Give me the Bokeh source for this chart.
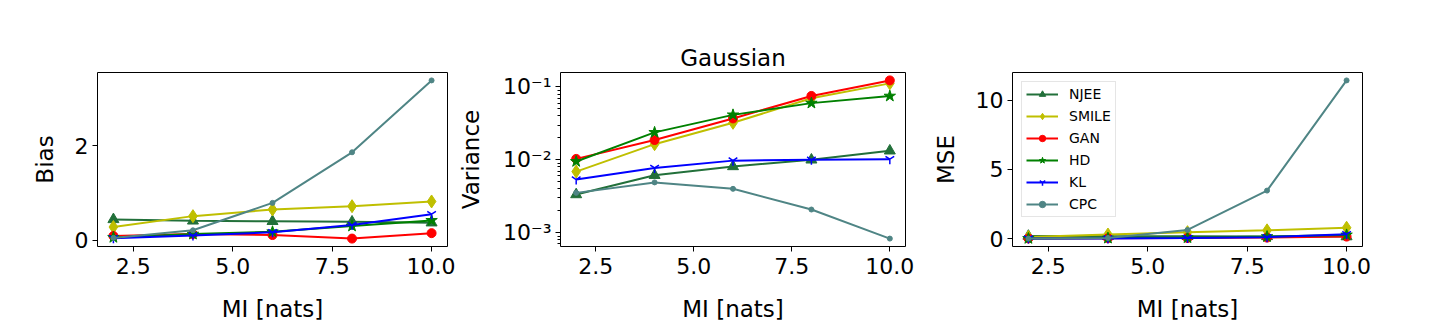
import numpy as np
from bokeh.plotting import figure
from bokeh.layouts import row
from bokeh.models import (FixedTicker, PrintfTickFormatter, CustomJSTickFormatter,
                          Range1d, Legend, LegendItem, LogTicker)
from bokeh.embed import file_html
from bokeh.resources import INLINE

# ---------------- data ----------------
mi = [2, 4, 6, 8, 10]
methods = ["NJEE", "SMILE", "GAN", "HD", "KL", "CPC"]

njee_bias = [0.44, 0.41, 0.40, 0.39, 0.37]
smile_bias = [0.28, 0.51, 0.65, 0.72, 0.82]
gan_bias = [0.09, 0.13, 0.11, 0.035, 0.15]
hd_bias = [0.06, 0.13, 0.18, 0.30, 0.42]
kl_bias = [0.04, 0.10, 0.17, 0.32, 0.55]
cpc_bias = [0.05, 0.21, 0.79, 1.86, 3.38]

njee_var = [0.00334, 0.00614, 0.0081, 0.0100, 0.0133]
smile_var = [0.0069, 0.0164, 0.0322, 0.070, 0.112]
gan_var = [0.0103, 0.0187, 0.037, 0.0753, 0.123]
hd_var = [0.0095, 0.0238, 0.0414, 0.060, 0.075]
kl_var = [0.00536, 0.00773, 0.00975, 0.0100, 0.0102]
cpc_var = [0.00352, 0.0049, 0.0040, 0.00208, 0.00083]

njee_mse = [0.19, 0.17, 0.17, 0.16, 0.15]
smile_mse = [0.12, 0.30, 0.47, 0.60, 0.79]
gan_mse = [0.02, 0.035, 0.05, 0.08, 0.15]
hd_mse = [0.015, 0.04, 0.07, 0.15, 0.27]
kl_mse = [0.007, 0.02, 0.04, 0.11, 0.32]
cpc_mse = [0.006, 0.05, 0.63, 3.47, 11.42]

x_ticks = [2.5, 5.0, 7.5, 10.0]
bias_ticks = [0, 2]
mse_ticks = [0, 5, 10]

bias = [njee_bias, smile_bias, gan_bias, hd_bias, kl_bias, cpc_bias]
var = [njee_var, smile_var, gan_var, hd_var, kl_var, cpc_var]
mse = [njee_mse, smile_mse, gan_mse, hd_mse, kl_mse, cpc_mse]

# ---------------- styles ----------------
styles = {
    "NJEE": ("#22703a", "triangle", 11),
    "SMILE": ("#bfbf00", "diamond", 13),
    "GAN": ("#ff0000", "circle", 9),
    "HD": ("#008000", "star", 12),
    "KL": ("#0000ff", "y", 10),
    "CPC": ("#4f8585", "circle", 5),
}
FONT = "DejaVu Sans"
TOP, BOTTOM, H = 72, 80, 326


def lin_range(series):
    lo = min(min(s) for s in series)
    hi = max(max(s) for s in series)
    m = 0.05 * (hi - lo)
    return Range1d(lo - m, hi + m)


def log_range(series):
    lo = np.log10(min(min(s) for s in series))
    hi = np.log10(max(max(s) for s in series))
    m = 0.05 * (hi - lo)
    return Range1d(10 ** (lo - m), 10 ** (hi + m))


def x_range():
    m = 0.05 * (max(mi) - min(mi))
    return Range1d(min(mi) - m, max(mi) + m)


def make_fig(series, ylabel, left, right, width, log=False, yticks=None, title=None,
             ylabel_standoff=14):
    p = figure(width=width, height=H, output_backend="svg", toolbar_location=None,
               y_axis_type="log" if log else "linear",
               x_range=x_range(), y_range=log_range(series) if log else lin_range(series),
               min_border_left=left, min_border_right=right,
               min_border_top=TOP, min_border_bottom=BOTTOM,
               title=title)
    p.grid.visible = False
    p.outline_line_color = "black"
    p.outline_line_width = 1
    p.outline_line_alpha = 1
    for ax in (p.xaxis[0], p.yaxis[0]):
        ax.axis_line_color = None
        ax.major_tick_in = 0
        ax.major_tick_out = 5
        ax.major_tick_line_color = "black"
        ax.major_label_text_font = FONT
        ax.major_label_text_font_size = "22px"
        ax.major_label_text_color = "black"
        ax.axis_label_text_font = FONT
        ax.axis_label_text_font_size = "23px"
        ax.axis_label_text_font_style = "normal"
        ax.axis_label_text_color = "black"
    p.xaxis[0].major_label_standoff = 6
    p.yaxis[0].major_label_standoff = 4
    p.xaxis[0].ticker = FixedTicker(ticks=x_ticks)
    p.xaxis[0].formatter = PrintfTickFormatter(format="%.1f")
    p.xaxis[0].minor_tick_line_color = None
    p.xaxis[0].axis_label = "MI [nats]"
    p.xaxis[0].axis_label_standoff = 19
    p.yaxis[0].axis_label = ylabel
    p.yaxis[0].axis_label_standoff = ylabel_standoff
    if log:
        p.yaxis[0].ticker = LogTicker(num_minor_ticks=10)
        p.yaxis[0].minor_tick_in = 0
        p.yaxis[0].minor_tick_out = 3
        p.yaxis[0].minor_tick_line_color = "black"
        p.yaxis[0].formatter = CustomJSTickFormatter(code="""
            const sup = {'-':'\u207b','0':'\u2070','1':'\u00b9','2':'\u00b2','3':'\u00b3',
                         '4':'\u2074','5':'\u2075','6':'\u2076','7':'\u2077','8':'\u2078','9':'\u2079'};
            const e = Math.round(Math.log10(tick));
            return '10' + String(e).split('').map(c => sup[c]).join('');
        """)
    else:
        p.yaxis[0].ticker = FixedTicker(ticks=yticks)
        p.yaxis[0].minor_tick_line_color = None
    if title:
        p.title.text_font = FONT
        p.title.text_font_size = "23px"
        p.title.text_font_style = "normal"
        p.title.text_color = "black"
        p.title.align = "center"
        p.title.standoff = 3
    items = []
    for name, s in zip(methods, series):
        color, marker, size = styles[name]
        l = p.line(mi, s, line_color=color, line_width=2)
        m = p.scatter(mi, s, marker=marker, size=size, fill_color=color,
                      line_color=color, line_width=1.5 if marker == "y" else 1)
        items.append(LegendItem(label=name, renderers=[l, m]))
    return p, items


p1, _ = make_fig(bias, "Bias", 97, 8, 455, yticks=bias_ticks)
p2, _ = make_fig(var, "Variance", 99, 10, 460, log=True, title="Gaussian",
                 ylabel_standoff=16)
p3, items = make_fig(mse, "MSE", 97, 10, 457, yticks=mse_ticks)

leg = Legend(items=items, location="top_left")
leg.label_text_font = FONT
leg.label_text_font_size = "14px"
leg.label_text_color = "black"
leg.glyph_width = 32
leg.glyph_height = 16
leg.label_height = 16
leg.spacing = 6
leg.padding = 4
leg.label_standoff = 11
leg.margin = 9
leg.border_line_color = "#cccccc"
leg.border_line_width = 1
leg.background_fill_alpha = 0.8
p3.add_layout(leg)

layout = row(p1, p2, p3)
open("out.html", "w").write(file_html(layout, INLINE))
